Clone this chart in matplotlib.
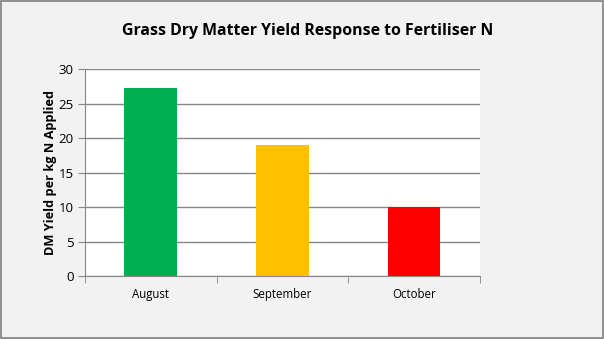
import matplotlib.pyplot as plt
from matplotlib.patches import Rectangle

months = ["August", "September", "October"]
yield_per_kg = [27.3, 19.0, 10.0]
bar_colors = ["#00B050", "#FFC000", "#FF0000"]
y_ticks = [0, 5, 10, 15, 20, 25, 30]


def plot():
    fig = plt.figure(figsize=(6.04, 3.39), dpi=100)
    fig.patch.set_facecolor("#F2F2F2")
    # thin grey frame around the whole chart
    fig.add_artist(Rectangle((0.001, 0.002), 0.997, 0.995, transform=fig.transFigure,
                             fill=False, edgecolor="#7F7F7F", linewidth=1.2))

    ax = fig.add_axes([0.1407, 0.1844, 0.654, 0.6112])
    ax.set_facecolor("white")

    x = range(len(months))
    ax.bar(x, yield_per_kg, width=0.4, color=bar_colors, zorder=3)

    ax.set_xlim(-0.5, len(months) - 0.5)
    ax.set_ylim(0, 30)
    ax.set_yticks(y_ticks)
    ax.yaxis.grid(True, color="#868686", linewidth=1, zorder=0)

    # category labels sit between the boundary ticks
    ax.set_xticks(x)
    ax.set_xticklabels(months, fontsize=8.3, family="Open Sans")
    ax.tick_params(axis="x", length=0, pad=8)
    ax.set_xticks([-0.5, 0.5, 1.5, 2.5], minor=True)
    ax.tick_params(axis="x", which="minor", length=5, color="#868686")
    ax.tick_params(axis="y", length=5, color="#868686", labelsize=9.5, pad=3)
    for lab in ax.get_yticklabels():
        lab.set_family("Open Sans")

    for side in ["top", "right"]:
        ax.spines[side].set_visible(False)
    for side in ["left", "bottom"]:
        ax.spines[side].set_color("#868686")

    ax.set_ylabel("DM Yield per kg N Applied", fontsize=9.2, fontweight="bold",
                  family="Open Sans", labelpad=1)
    fig.text(0.51, 0.91, "Grass Dry Matter Yield Response to Fertiliser N",
             ha="center", va="center", fontsize=11.4, fontweight="bold",
             family="Open Sans")

    fig.savefig("out.png", dpi=100, facecolor=fig.get_facecolor())


def main():
    plot()


if __name__ == "__main__":
    main()
